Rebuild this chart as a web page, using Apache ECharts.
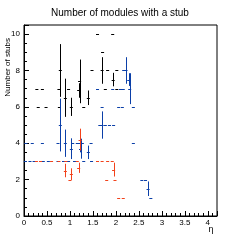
<!DOCTYPE html>
<html>
<head>
<meta charset="utf-8">
<script src="https://cdn.jsdelivr.net/npm/echarts@6.0.0/dist/echarts.min.js"></script>
<style>
html, body { margin: 0; padding: 0; background: #fff; }
#chart { width: 240px; height: 240px; }
</style>
</head>
<body>
<div id="chart"></div>
<script>
// eta, mean number of stubs, error (0 = no vertical bar)
var blackEta = [0.28, 0.31, 0.40, 0.48, 0.76, 0.77, 0.79, 0.90, 0.97, 1.03, 1.19, 1.21, 1.30, 1.40, 1.48, 1.60, 1.70, 1.71, 1.77, 1.82, 1.93, 1.94, 2.02, 2.02];
var blackVal = [7, 6, 7, 6, 7, 6, 8, 6.5, 7, 6, 6.9, 7.4, 6, 6.5, 8, 10, 8, 9, 7, 8, 10, 7.5, 8, 7];
var blackErr = [0, 0, 0, 0, 0, 0, 1.45, 1.05, 0, 0.5, 0.4, 1.2, 0, 0.4, 0, 0, 0.73, 0, 0, 0, 0, 0.37, 0, 0];

var blueEta = [0.03, 0.04, 0.13, 0.18, 0.22, 0.40, 0.42, 0.53, 0.74, 0.74, 0.79, 0.86, 0.90, 0.97, 1.03, 1.06, 1.10, 1.16, 1.21, 1.23, 1.27, 1.30, 1.40, 1.46, 1.47, 1.60, 1.65, 1.70, 1.70, 1.77, 1.86, 1.93, 1.95, 2.06, 2.10, 2.14, 2.16, 2.17, 2.22, 2.28, 2.30, 2.38, 2.38, 2.565, 2.645, 2.70, 2.76];
var blueVal = [3, 4, 3, 4, 3, 4, 3, 3, 4, 3, 5, 3, 4, 3, 3.7, 4, 3, 4, 4, 3.7, 4, 3, 3.5, 4, 3, 7, 5, 6, 5, 5, 5, 7, 5, 6, 7, 6, 7, 8, 8, 7.5, 7, 6, 4, 2, 2, 1.5, 1];
var blueErr = [0, 0, 0, 0, 0, 0, 0, 0, 0, 0, 1.45, 0, 0.75, 0, 0.57, 0, 0, 0, 0.5, 0.55, 0, 0, 0.37, 0, 0, 0, 0, 0, 0.75, 0, 0, 0, 0, 0, 0, 0, 0, 0, 0.73, 0.35, 0.85, 0, 0, 0, 0, 0.4, 0];

var redEta = [0.27, 0.36, 0.60, 0.76, 0.90, 0.91, 1.00, 1.03, 1.16, 1.19, 1.22, 1.60, 1.70, 1.80, 1.82, 1.92, 1.95, 1.98, 2.06, 2.16];
var redVal = [3, 3, 3, 3, 2.5, 3, 2, 2.3, 3, 2.65, 4.2, 3, 3, 2, 3, 3, 2.55, 2, 1, 1];
var redErr = [0, 0, 0, 0, 0.37, 0, 0, 0.32, 0, 0.28, 0.6, 0, 0, 0, 0, 0, 0.38, 0, 0, 0];

var halfWidth = 0.033;

function zip(eta, val, err) {
    return eta.map(function (x, i) { return [x, val[i], err[i]]; });
}

function errorBars(color) {
    return function (params, api) {
        var x = api.value(0), y = api.value(1), e = api.value(2);
        var l = api.coord([x - halfWidth, y]);
        var r = api.coord([x + halfWidth, y]);
        var yy = Math.round(l[1]) + 0.5;
        var children = [{
            type: 'line',
            shape: { x1: l[0], y1: yy, x2: r[0], y2: yy },
            style: { stroke: color, lineWidth: 1 }
        }];
        if (e > 0) {
            var t = api.coord([x, y + e]);
            var b = api.coord([x, y - e]);
            var xx = Math.round(t[0]) + 0.5;
            children.push({
                type: 'line',
                shape: { x1: xx, y1: t[1], x2: xx, y2: b[1] },
                style: { stroke: color, lineWidth: 1 }
            });
        }
        return { type: 'group', children: children };
    };
}

var font = 'Liberation Sans';
var myChart = echarts.init(document.getElementById('chart'));
myChart.setOption({
    animation: false,
    title: {
        text: 'Number of modules with a stub',
        left: 'center',
        top: 3,
        textStyle: { fontSize: 10, fontWeight: 'normal', color: '#000', fontFamily: font }
    },
    grid: {
        left: 24, right: 23, top: 25, bottom: 24,
        show: true, borderColor: '#000', borderWidth: 1
    },
    xAxis: {
        type: 'value', min: 0, max: 4.2, interval: 0.5,
        axisLine: { lineStyle: { color: '#000', width: 1 } },
        axisTick: { inside: true, length: 5, lineStyle: { color: '#000' } },
        minorTick: { show: true, splitNumber: 5, length: 3, lineStyle: { color: '#000' } },
        axisLabel: { fontSize: 8, color: '#000', margin: 3, fontFamily: font, showMaxLabel: false },
        splitLine: { show: false }
    },
    yAxis: {
        type: 'value', min: 0, max: 10.5, interval: 2,
        axisLine: { lineStyle: { color: '#000', width: 1 } },
        axisTick: { inside: true, length: 5, lineStyle: { color: '#000' } },
        minorTick: { show: true, splitNumber: 4, length: 3, lineStyle: { color: '#000' } },
        axisLabel: { fontSize: 8, color: '#000', margin: 4, fontFamily: font, showMaxLabel: false },
        splitLine: { show: false }
    },
    graphic: [
        {
            type: 'text', x: 8, y: 38, rotation: Math.PI / 2,
            style: { text: 'Number of stubs', fontSize: 8, fill: '#000', fontFamily: font, textAlign: 'right', textVerticalAlign: 'middle' }
        },
        {
            type: 'text', x: 211, y: 230,
            style: { text: 'η', fontSize: 9, fill: '#000', fontFamily: font, textAlign: 'center', textVerticalAlign: 'middle' }
        }
    ],
    series: [
        { type: 'custom', renderItem: errorBars('#000000'), data: zip(blackEta, blackVal, blackErr), encode: { x: 0, y: 1 } },
        { type: 'custom', renderItem: errorBars('#0b3fa8'), data: zip(blueEta, blueVal, blueErr), encode: { x: 0, y: 1 } },
        { type: 'custom', renderItem: errorBars('#f2421b'), data: zip(redEta, redVal, redErr), encode: { x: 0, y: 1 } }
    ]
});
</script>
</body>
</html>
